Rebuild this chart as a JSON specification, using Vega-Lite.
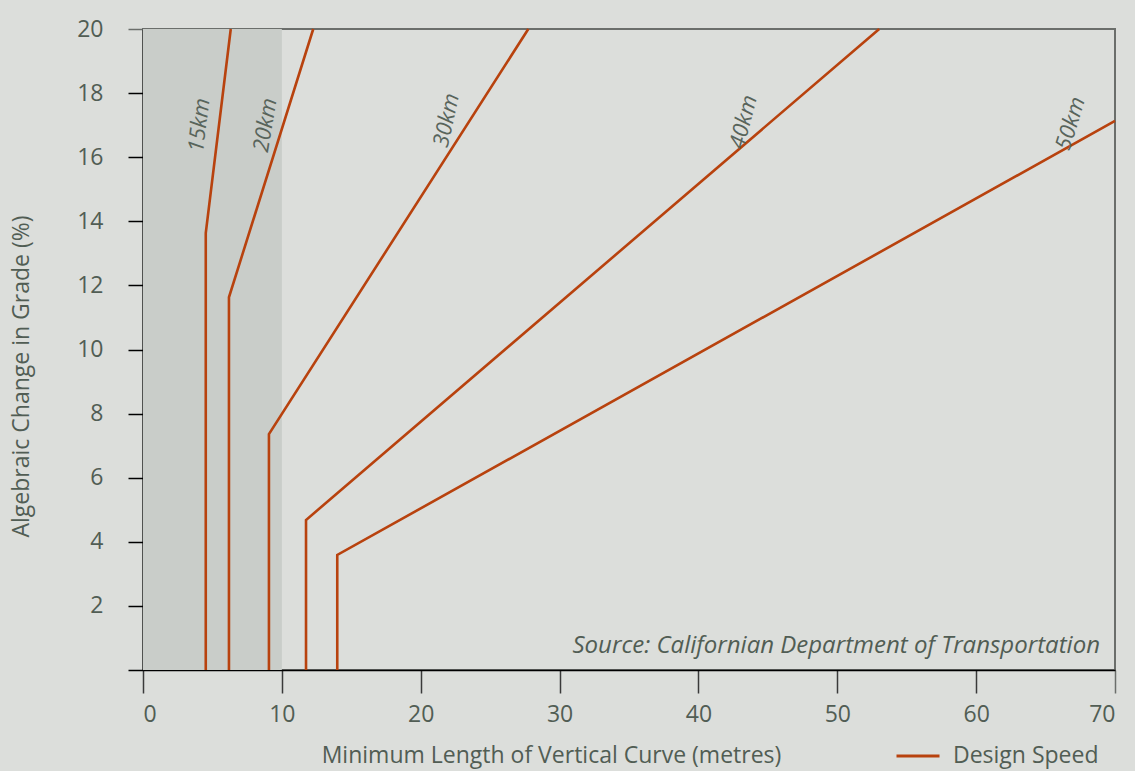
{
  "$schema": "https://vega.github.io/schema/vega-lite/v6.json",
  "autosize": {"type": "none"},
  "padding": {"left": 143, "top": 29, "right": 20, "bottom": 101},
  "width": 972,
  "height": 641,
  "background": "#dcdedb",
  "config": {
    "font": "Open Sans",
    "view": {"stroke": "#6b6e6b", "strokeWidth": 2},
    "axis": {"labelFont": "Open Sans", "titleFont": "Open Sans", "labelColor": "#515d54", "titleColor": "#515d54", "labelFontSize": 23, "titleFontSize": 23, "titleFontWeight": "normal", "grid": false}
  },
  "datasets": {
    "curves": [
      {"speed": "15km", "x": 4.52, "y": 0, "o": 1},
      {"speed": "15km", "x": 4.52, "y": 13.63, "o": 2},
      {"speed": "15km", "x": 6.32, "y": 20, "o": 3},
      {"speed": "20km", "x": 6.19, "y": 0, "o": 1},
      {"speed": "20km", "x": 6.19, "y": 11.63, "o": 2},
      {"speed": "20km", "x": 12.26, "y": 20, "o": 3},
      {"speed": "30km", "x": 9.07, "y": 0, "o": 1},
      {"speed": "30km", "x": 9.07, "y": 7.36, "o": 2},
      {"speed": "30km", "x": 27.75, "y": 20, "o": 3},
      {"speed": "40km", "x": 11.74, "y": 0, "o": 1},
      {"speed": "40km", "x": 11.74, "y": 4.68, "o": 2},
      {"speed": "40km", "x": 53.02, "y": 20, "o": 3},
      {"speed": "50km", "x": 13.99, "y": 0, "o": 1},
      {"speed": "50km", "x": 13.99, "y": 3.59, "o": 2},
      {"speed": "50km", "x": 70, "y": 17.13, "o": 3}
    ],
    "labels": [
      {"speed": "15km", "x": 4.05, "y": 17.0},
      {"speed": "20km", "x": 8.8, "y": 17.0},
      {"speed": "30km", "x": 21.85, "y": 17.15},
      {"speed": "40km", "x": 43.25, "y": 17.1},
      {"speed": "50km", "x": 66.8, "y": 17.05}
    ],
    "shade": [{"x0": 0, "x1": 10, "y0": 0, "y1": 20}],
    "source": [{"x": 68.92, "y": 0.75, "text": "Source: Californian Department of Transportation"}]
  },
  "layer": [
    {
      "data": {"name": "shade"},
      "mark": {"type": "rect", "color": "#c9cdc9"},
      "encoding": {
        "x": {"field": "x0", "type": "quantitative", "scale": {"domain": [0, 70]},
          "axis": {"values": [0, 10, 20, 30, 40, 50, 60, 70], "title": "Minimum Length of Vertical Curve (metres)", "domainColor": "#000000", "domainWidth": 1.5, "tickColor": {"condition": {"test": "datum.value == 70", "value": "#6b6e6b"}, "value": "#3a3a3a"}, "tickSize": 23, "tickWidth": 1.5, "labelPadding": 10, "labelDx": 4, "titleX": 408, "titleY": 85, "titleBaseline": "middle", "titleAnchor": "middle", "titleAlign": "center"}},
        "x2": {"field": "x1"},
        "y": {"field": "y0", "type": "quantitative", "scale": {"domain": [0, 20]},
          "axis": {"values": [0, 2, 4, 6, 8, 10, 12, 14, 16, 18, 20], "labelExpr": "datum.value == 0 ? '' : datum.label", "title": "Algebraic Change in Grade (%)", "domainColor": "#000000", "domainWidth": 1.5, "tickColor": {"condition": {"test": "datum.value == 20", "value": "#6b6e6b"}, "value": "#000000"}, "tickSize": 15, "tickWidth": 1.5, "labelPadding": 25, "titleX": -122, "titleY": 347, "titleBaseline": "middle", "titleAlign": "center", "titleAngle": -90}},
        "y2": {"field": "y1"}
      }
    },
    {
      "data": {"name": "curves"},
      "mark": {"type": "line", "strokeWidth": 2.6},
      "encoding": {
        "x": {"field": "x", "type": "quantitative"},
        "y": {"field": "y", "type": "quantitative"},
        "detail": {"field": "speed"},
        "order": {"field": "o"},
        "color": {"datum": "Design Speed", "type": "nominal", "scale": {"range": ["#b8420e"]},
          "legend": {"title": null, "orient": "none", "legendX": 752, "legendY": 704, "symbolType": "stroke", "symbolSize": 1849, "symbolStrokeWidth": 3, "labelFont": "Open Sans", "labelFontSize": 23, "labelColor": "#515d54", "labelOffset": 12}}
      }
    },
    {
      "data": {"name": "labels"},
      "mark": {"type": "text", "fontSize": 22, "fontStyle": "italic", "color": "#58645b", "align": "center", "baseline": "middle"},
      "encoding": {
        "x": {"field": "x", "type": "quantitative"},
        "y": {"field": "y", "type": "quantitative"},
        "text": {"field": "speed"},
        "angle": {"field": "speed", "type": "nominal", "scale": {"domain": ["15km", "20km", "30km", "40km", "50km"], "range": [277, 287, 303, 319, 331]}, "legend": null}
      }
    },
    {
      "data": {"name": "source"},
      "mark": {"type": "text", "fontSize": 24, "fontStyle": "italic", "color": "#515d54", "align": "right", "baseline": "middle"},
      "encoding": {
        "x": {"field": "x", "type": "quantitative"},
        "y": {"field": "y", "type": "quantitative"},
        "text": {"field": "text"}
      }
    }
  ]
}
